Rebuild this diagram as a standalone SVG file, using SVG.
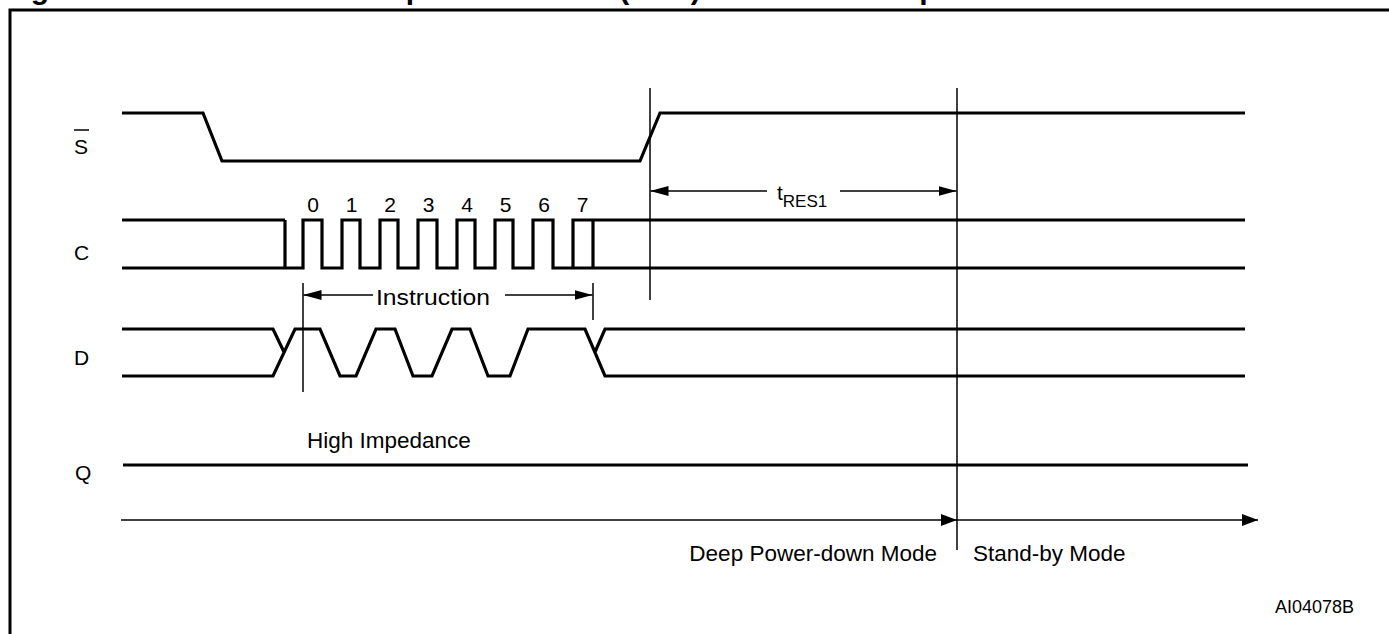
<svg xmlns="http://www.w3.org/2000/svg" width="1389" height="634" viewBox="0 0 1389 634">
<defs>
<style>
text{font-family:"Liberation Sans",Arial,sans-serif;fill:#000}
.lbl{font-size:21px}
.big{font-size:22.5px}
.sig{fill:none;stroke:#000;stroke-width:3.2;stroke-linejoin:miter}
.thin{fill:none;stroke:#000;stroke-width:1.5}
.frame{fill:none;stroke:#000;stroke-width:3}
.title{font-size:30px;font-weight:bold}
</style>
<marker id="ah" viewBox="0 0 18 10" refX="18" refY="5" markerWidth="18" markerHeight="10" markerUnits="userSpaceOnUse" orient="auto-start-reverse">
<path d="M0,0 L18,5 L0,10 Z" fill="#000"/>
</marker>
<marker id="ah2" viewBox="0 0 16 12" refX="16" refY="6" markerWidth="16" markerHeight="12" markerUnits="userSpaceOnUse" orient="auto">
<path d="M0,0 L16,6 L0,12 Z" fill="#000"/>
</marker>
</defs>
<rect width="1389" height="634" fill="#fff"/>
<text class="title" x="4" y="-1">Figure 19. Release from Deep Power-down (RES) Instruction Sequence</text>
<path class="frame" d="M10,640 L10,10 L1395,10"/>

<g id="S">
<text class="lbl" x="74" y="154">S</text>
<line x1="74" y1="130" x2="89" y2="130" stroke="#000" stroke-width="1.5"/>
<path class="sig" d="M122,113 L203,113 L222,161 L640,161 L660,113 L1245,113"/>
</g>

<g id="C">
<text class="lbl" x="74" y="260">C</text>
<path class="sig" d="M122,220 L285,220 M122,268 L285,268 M285,220 L285,268 L303,268 L303,220 L322,220 L322,268 L342,268 L342,220 L360,220 L360,268 L380,268 L380,220 L398,220 L398,268 L418,268 L418,220 L437,220 L437,268 L457,268 L457,220 L475,220 L475,268 L495,268 L495,220 L513,220 L513,268 L533,268 L533,220 L553,220 L553,268 L573,268 L573,220 L593,220 L593,268 M553,268 L1245,268 M593,220 L1245,220"/>
<g class="lbl" text-anchor="middle">
<text x="313" y="212">0</text><text x="351.5" y="212">1</text><text x="390" y="212">2</text><text x="428.5" y="212">3</text><text x="467" y="212">4</text><text x="505.5" y="212">5</text><text x="544" y="212">6</text><text x="582.5" y="212">7</text>
</g>
</g>

<g id="D">
<text class="lbl" x="74" y="365">D</text>
<path class="sig" d="M122,329 L273,329 L284,352 M122,376 L273,376 L295,329 L320,329 L340,376 L356,376 L376,329 L395,329 L413,376 L432,376 L452,329 L470,329 L488,376 L510,376 L528,329 L585,329 L605,376 L1245,376 M595,352 L605,329 L1245,329"/>
</g>

<g id="Q">
<text class="lbl" x="75" y="480">Q</text>
<text class="big" x="307" y="448">High Impedance</text>
<path class="sig" d="M123,465 L1248,465"/>
</g>

<g id="connectors">
<line class="thin" x1="650" y1="88" x2="650" y2="300"/>
<line class="thin" x1="957" y1="88" x2="957" y2="550"/>
<line class="thin" x1="303" y1="283" x2="303" y2="392"/>
<line class="thin" x1="593" y1="283" x2="593" y2="320"/>
<line class="thin" x1="767" y1="191" x2="650.5" y2="191" marker-end="url(#ah)"/>
<line class="thin" x1="840" y1="191" x2="956.5" y2="191" marker-end="url(#ah)"/>
<line class="thin" x1="373" y1="295" x2="303.5" y2="295" marker-end="url(#ah)"/>
<line class="thin" x1="505" y1="295" x2="592.5" y2="295" marker-end="url(#ah)"/>
<line class="thin" x1="121" y1="520" x2="957" y2="520" marker-end="url(#ah2)"/>
<line class="thin" x1="957" y1="520" x2="1258" y2="520" marker-end="url(#ah2)"/>
</g>

<g id="labels">
<text class="lbl" x="777" y="200">t<tspan font-size="17" dy="7">RES1</tspan></text>
<text class="big" x="376" y="305" textLength="114" lengthAdjust="spacingAndGlyphs">Instruction</text>
<text class="big" x="937" y="561" text-anchor="end">Deep Power-down Mode</text>
<text class="big" x="973" y="561">Stand-by Mode</text>
<text x="1275" y="613" font-size="18">AI04078B</text>
</g>
</svg>
